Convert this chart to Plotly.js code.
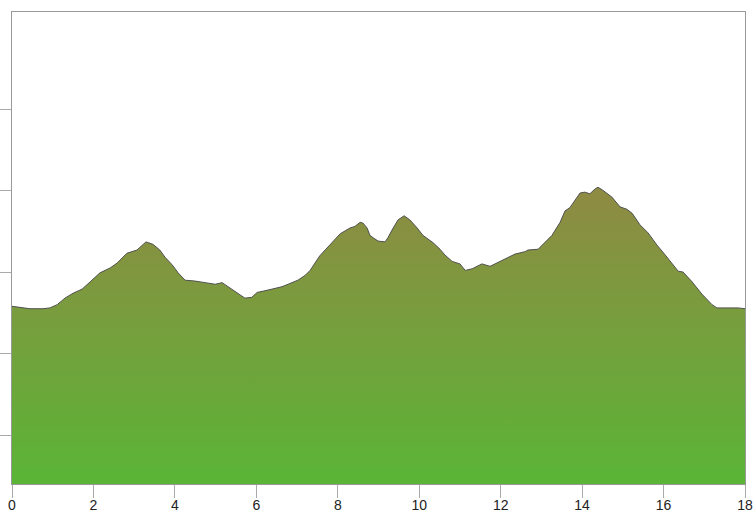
<!DOCTYPE html>
<html>
<head>
<meta charset="utf-8">
<script src="https://cdn.plot.ly/plotly-3.0.1.min.js"></script>
<style>
html,body{margin:0;padding:0;background:#fff;}
#chart{width:756px;height:514px;}
</style>
</head>
<body>
<div id="chart"></div>
<script>
// Distance (km) along the route
const distance = [
  0, 0.20, 0.44, 0.76, 0.93, 1.11, 1.30, 1.50, 1.72, 1.92,
  2.16, 2.41, 2.58, 2.82, 3.07, 3.29, 3.46, 3.63, 3.76, 3.93,
  4.08, 4.25, 4.49, 4.74, 4.99, 5.16, 5.30, 5.55, 5.72, 5.89,
  6.02, 6.21, 6.46, 6.63, 6.78, 7.02, 7.20, 7.32, 7.56, 7.81,
  8.06, 8.30, 8.42, 8.55, 8.62, 8.72, 8.79, 8.87, 8.99, 9.16,
  9.23, 9.36, 9.48, 9.63, 9.77, 9.95, 10.09, 10.34, 10.51, 10.63,
  10.81, 11.00, 11.13, 11.30, 11.54, 11.74, 11.94, 12.11, 12.35, 12.60,
  12.67, 12.92, 13.09, 13.26, 13.46, 13.58, 13.70, 13.83, 13.95, 14.07,
  14.19, 14.32, 14.39, 14.49, 14.73, 14.93, 15.10, 15.23, 15.42, 15.62,
  15.84, 16.04, 16.23, 16.36, 16.48, 16.70, 16.94, 17.19, 17.31, 17.58,
  17.83, 18.0
];
// Elevation (m)
const elevation = [
  358, 357, 355, 355, 356, 360, 368, 374, 379, 388,
  399, 405, 411, 423, 427, 437, 434, 427, 418, 409,
  399, 390, 389, 387, 385, 387, 382, 373, 368, 369,
  375, 377, 380, 382, 385, 390, 396, 402, 420, 433,
  447, 454, 456, 461, 460, 454, 445, 442, 438, 437,
  442, 454, 464, 469, 464, 454, 445, 436, 428, 421,
  413, 410, 402, 404, 410, 407, 412, 417, 422, 425,
  427, 428, 436, 445, 461, 475, 479, 488, 497, 498,
  496, 502, 504, 501, 492, 480, 477, 472, 458, 448,
  433, 421, 409, 401, 400, 388, 373, 360, 356, 356,
  356, 355
];
const xTicks = [0, 2, 4, 6, 8, 10, 12, 14, 16, 18];
const yTicks = [200, 300, 400, 500, 600];

const trace = {
  x: distance,
  y: elevation,
  type: 'scatter',
  mode: 'lines',
  fill: 'tozeroy',
  line: {color: '#505050', width: 1},
  fillgradient: {
    type: 'vertical',
    start: 140,
    stop: 504,
    colorscale: [[0, '#5ab536'], [1, '#8f8a43']]
  },
  hoverinfo: 'x+y'
};

const layout = {
  width: 756,
  height: 514,
  margin: {l: 12, r: 11, t: 12, b: 30, pad: 0},
  paper_bgcolor: '#ffffff',
  plot_bgcolor: '#ffffff',
  showlegend: false,
  font: {family: 'Liberation Sans, Arial, sans-serif', size: 14, color: '#222'},
  xaxis: {
    range: [0, 18],
    tickvals: xTicks,
    ticktext: xTicks.map(String),
    ticks: 'outside',
    ticklen: 13,
    tickcolor: '#aaaaaa',
    tickwidth: 1,
    ticklabelstandoff: -5,
    showgrid: false,
    zeroline: false,
    showline: true,
    linecolor: '#999999',
    linewidth: 1,
    mirror: true,
    tickfont: {size: 14, color: '#222'}
  },
  yaxis: {
    range: [140, 719],
    tickvals: yTicks,
    ticks: 'outside',
    ticklen: 12,
    tickcolor: '#aaaaaa',
    tickwidth: 1,
    showticklabels: false,
    showgrid: false,
    zeroline: false,
    showline: true,
    linecolor: '#999999',
    linewidth: 1,
    mirror: true
  }
};

Plotly.newPlot('chart', [trace], layout, {displayModeBar: false, staticPlot: true});
</script>
</body>
</html>
